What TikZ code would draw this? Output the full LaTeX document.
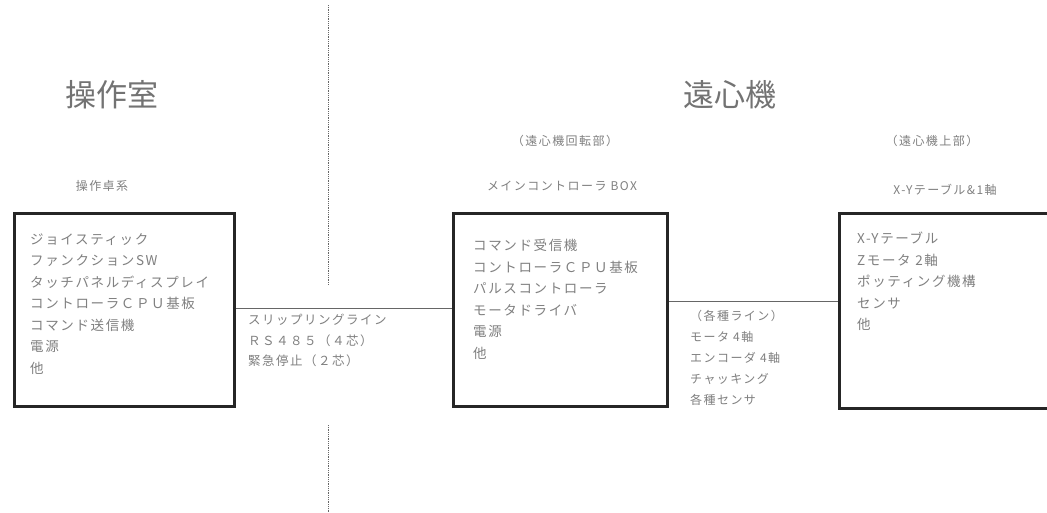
\documentclass[tikz,border=0pt]{standalone}
\usepackage{fontspec}
\setmainfont{Liberation Serif}
\newfontfamily\jp{Noto Sans CJK JP}
\newfontfamily\jpw[LetterSpace=12]{Noto Sans CJK JP}
\begin{document}
\begin{tikzpicture}[x=1pt,y=-1pt,
  box/.style={draw=black!85,line width=2.6pt},
  wire/.style={draw=black!60,line width=0.9pt},
  txt/.style={font=\jpw\fontsize{13.5}{21.5}\selectfont,text=black!50,align=left,anchor=north west,inner sep=0pt},
  captxt/.style={font=\jpw\fontsize{12}{14}\selectfont,text=black!50,inner sep=0pt},
  ttl/.style={font=\jp\fontsize{31}{34}\selectfont,text=black!55,inner sep=0pt}]
\useasboundingbox[fill=white] (0,0) rectangle (1047,512);
\draw[black!60,densely dotted,line width=0.8pt] (328,5) -- (328,285);
\draw[black!60,densely dotted,line width=0.8pt] (328,425) -- (328,512);
\node[ttl] (t1) at (112,95) {操作室};
\node[ttl] (t2) at (730,95) {遠心機};
\node[captxt] (c1) at (102,186) {操作卓系};
\node[captxt] (c2) at (565,141) {（遠心機回転部）};
\node[captxt] (c3) at (562,186) {メインコントローラ BOX};
\node[captxt] (c4) at (932,141) {（遠心機上部）};
\node[captxt] (c5) at (945,190) {X-Yテーブル\&1軸};
\node[box,minimum width=220,minimum height=193,anchor=north west,inner sep=0pt] (b1) at (13,212) {};
\node[box,minimum width=214,minimum height=193,anchor=north west,inner sep=0pt] (b2) at (452,212) {};
\node[box,minimum width=212,minimum height=195,anchor=north west,inner sep=0pt] (b3) at (838,212) {};
\node[txt] (l1) at (30,233) {ジョイスティック\\ファンクションSW\\タッチパネルディスプレイ\\コントローラＣＰＵ基板\\コマンド送信機\\電源\\他};
\node[txt] (l2) at (473,239) {コマンド受信機\\コントローラＣＰＵ基板\\パルスコントローラ\\モータドライバ\\電源\\他};
\node[txt] (l3) at (857,232) {X-Yテーブル\\Zモータ 2軸\\ポッティング機構\\センサ\\他};
\draw[wire] (b1.east |- 0,308) coordinate (w1) -- (b2.west |- 0,308) coordinate (w2);
\draw[wire] (b2.east |- 0,301) coordinate (w3) -- (b3.west |- 0,301) coordinate (w4);
\node[txt,font=\jpw\fontsize{12.5}{20.5}\selectfont] (m1) at (248,314) {スリップリングライン\\ＲＳ４８５（４芯）\\緊急停止（２芯）};
\node[txt,font=\jpw\fontsize{12}{21}\selectfont] (m2) at (690,310) {（各種ライン）\\モータ 4軸\\エンコーダ 4軸\\チャッキング\\各種センサ};
\end{tikzpicture}
\end{document}
